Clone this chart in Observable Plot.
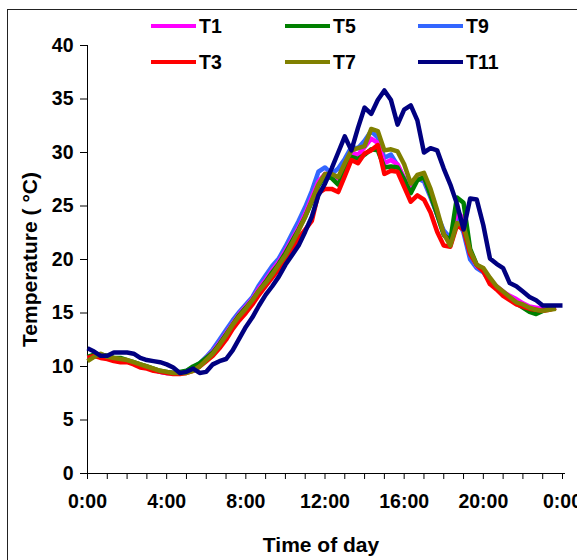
<!DOCTYPE html>
<html>
<head>
<meta charset="utf-8">
<script src="https://cdn.jsdelivr.net/npm/d3@7"></script>
<script src="https://cdn.jsdelivr.net/npm/@observablehq/plot@0.6"></script>
<style>
  html, body { margin: 0; padding: 0; background: #fff; overflow: hidden; }
  #wrap { position: relative; width: 577px; height: 560px; overflow: hidden; font-family: "Liberation Sans", Arial, sans-serif; }
  #border { position: absolute; left: 7px; top: 9px; width: 640px; height: 640px; border: 1.5px solid #222; box-sizing: border-box; }
  #legend { position: absolute; left: 0; top: 0; }
  .item { position: absolute; display: flex; align-items: center; font-weight: bold; font-size: 19.5px; color: #000; }
  .swatch { width: 45px; height: 4.5px; margin-right: 3px; }
</style>
</head>
<body>
<div id="wrap"><div id="border"></div><div id="chart"></div><div id="legend"></div></div>
<script>
// Readings every 20 minutes starting at 0:00
const stepHours = 1 / 3;
const T1 = [10.8, 11.0, 10.9, 10.8, 10.7, 10.6, 10.5, 10.3, 10.1,
  9.9, 9.7, 9.5, 9.4, 9.4, 9.4, 9.5, 9.8, 10.2,
  10.8, 11.4, 12.2, 13.1, 14.0, 14.9, 15.6, 16.3, 17.3,
  18.1, 19.0, 19.8, 20.8, 21.9, 23.0, 24.3, 25.8, 27.3,
  28.0, 27.7, 27.6, 28.8, 30.0, 29.8, 30.5, 31.3, 30.9,
  29.0, 29.3, 28.9, 27.6, 26.6, 27.5, 27.6, 26.0, 24.2,
  22.4, 21.6, 24.5, 23.8, 20.7, 19.4, 19.0, 18.1, 17.5,
  17.0, 16.6, 16.3, 15.9, 15.6, 15.5, 15.4, 15.4, 15.5];
const T3 = [10.8, 11.0, 10.8, 10.7, 10.5, 10.4, 10.4, 10.2, 9.9,
  9.8, 9.6, 9.5, 9.4, 9.3, 9.3, 9.4, 9.6, 10.0,
  10.5, 11.0, 11.7, 12.5, 13.5, 14.3, 15.0, 15.8, 16.7,
  17.5, 18.3, 19.1, 20.0, 21.0, 22.0, 22.8, 23.6, 26.2,
  26.6, 26.6, 26.3, 27.8, 29.3, 29.0, 29.9, 30.2, 30.7,
  28.0, 28.3, 28.2, 26.8, 25.4, 26.0, 25.6, 24.4, 22.6,
  21.3, 21.2, 23.2, 22.8, 20.5, 19.5, 18.9, 17.7, 17.2,
  16.6, 16.2, 15.8, 15.6, 15.4, 15.3, 15.2, 15.3, 15.5];
const T5 = [10.9, 11.1, 11.1, 11.0, 10.8, 10.8, 10.6, 10.4, 10.2,
  10.0, 9.8, 9.6, 9.5, 9.4, 9.5, 9.6, 10.0, 10.3,
  10.8, 11.3, 12.1, 13.0, 13.9, 14.8, 15.5, 16.2, 17.1,
  17.9, 18.8, 19.6, 20.6, 21.7, 22.8, 24.0, 25.4, 26.9,
  27.8, 27.6, 27.0, 28.3, 29.6, 29.4, 29.8, 30.3, 30.2,
  28.6, 28.7, 28.6, 27.5, 26.2, 27.4, 27.7, 26.0, 24.2,
  22.3, 21.8, 25.8, 25.3, 21.0, 19.5, 19.0, 18.0, 17.4,
  16.9, 16.4, 15.9, 15.5, 15.1, 14.9, 15.2, 15.4, 15.5];
const T7 = [10.5, 10.9, 11.2, 10.9, 10.8, 10.7, 10.6, 10.4, 10.2,
  10.0, 9.8, 9.6, 9.5, 9.4, 9.4, 9.4, 9.6, 10.0,
  10.6, 11.2, 12.0, 12.9, 13.9, 14.7, 15.4, 16.2, 17.1,
  17.8, 18.6, 19.5, 20.4, 21.5, 22.7, 24.0, 25.5, 27.0,
  28.0, 28.0, 27.7, 29.0, 30.2, 30.4, 30.6, 32.2, 32.0,
  30.2, 30.3, 30.1, 28.9, 27.1, 27.9, 28.1, 26.6, 24.6,
  22.4, 21.3, 23.4, 23.2, 20.8, 19.5, 19.2, 18.3, 17.5,
  17.0, 16.5, 16.0, 15.8, 15.5, 15.3, 15.2, 15.3, 15.4];
const T9 = [10.8, 11.0, 11.0, 10.9, 10.7, 10.6, 10.5, 10.3, 10.1,
  9.9, 9.7, 9.5, 9.4, 9.4, 9.4, 9.6, 9.9, 10.3,
  10.9, 11.6, 12.5, 13.4, 14.3, 15.1, 15.8, 16.5, 17.6,
  18.5, 19.4, 20.1, 21.2, 22.4, 23.6, 24.9, 26.4, 28.2,
  28.6, 28.0, 28.5, 29.4, 30.5, 30.4, 31.1, 32.0, 31.4,
  29.5, 29.8, 28.8, 27.6, 27.0, 27.6, 27.3, 25.8, 24.2,
  22.7, 22.0, 24.0, 22.5, 20.0, 19.2, 18.8, 17.9, 17.3,
  16.8, 16.4, 15.9, 15.6, 15.2, 15.0, 15.3, 15.4, 15.5];
const T11 = [11.7, 11.4, 11.0, 11.0, 11.3, 11.3, 11.3, 11.2, 10.8,
  10.6, 10.5, 10.4, 10.2, 9.9, 9.4, 9.5, 9.8, 9.4,
  9.5, 10.2, 10.5, 10.7, 11.5, 12.6, 13.7, 14.6, 15.7,
  16.7, 17.5, 18.4, 19.5, 20.4, 21.3, 22.6, 24.0, 26.0,
  27.1, 28.5, 30.0, 31.5, 30.2, 32.3, 34.2, 33.6, 34.9,
  35.8, 34.9, 32.6, 34.0, 34.4, 33.0, 30.0, 30.4, 30.2,
  28.5, 27.0, 25.2, 22.8, 25.7, 25.6, 23.2, 20.1, 19.6,
  19.2, 17.8, 17.5, 17.0, 16.5, 16.2, 15.7, 15.7, 15.7,
  15.7];

const seriesNames = ["T1", "T3", "T5", "T7", "T9", "T11"];
const seriesColors = ["#FF00FF", "#FF0000", "#008000", "#808000", "#3366FF", "#000080"];
const seriesValues = [T1, T3, T5, T7, T9, T11];
const drawOrder = ["T9", "T1", "T5", "T3", "T7", "T11"];
const legendOrder = ["T1", "T5", "T9", "T3", "T7", "T11"];

const yTicks = [0, 5, 10, 15, 20, 25, 30, 35, 40];
const xMinorTicks = d3.range(0, 25, 1);
const xLabelTicks = [0, 4, 8, 12, 16, 20, 24];
const xTickLabels = ["0:00", "4:00", "8:00", "12:00", "16:00", "20:00", "0:00"];
const yTitle = "Temperature (\u00A0\u00B0C)";
const xTitle = "Time of day";

const rows = (name) => {
  const vals = seriesValues[seriesNames.indexOf(name)];
  return vals.map((v, i) => ({hour: i * stepHours, temp: v}));
};
const colorOf = (name) => seriesColors[seriesNames.indexOf(name)];

const chart = Plot.plot({
  width: 577,
  height: 560,
  marginLeft: 87,
  marginRight: 15,
  marginTop: 45,
  marginBottom: 87,
  x: {domain: [0, 24]},
  y: {domain: [0, 40]},
  style: {fontFamily: "'Liberation Sans', Arial, sans-serif", fontWeight: "bold", fontSize: "19px", color: "#000", background: "transparent", overflow: "visible"},
  marks: [
    Plot.ruleX([0], {y1: 0, y2: 40, stroke: "#000", strokeWidth: 1}),
    Plot.ruleY([0], {x1: 0, x2: 24.15, stroke: "#000", strokeWidth: 1}),
    Plot.axisY({ticks: yTicks, tickSize: 7, tickPadding: 7, label: null, fontSize: 19.5, stroke: "#000"}),
    Plot.axisX({ticks: xMinorTicks, tickSize: 6, tickFormat: () => "", label: null, stroke: "#000"}),
    Plot.axisX({ticks: xLabelTicks, tickSize: 0, tickPadding: 21, label: null, fontSize: 19.5,
      tickFormat: (d) => xTickLabels[xLabelTicks.indexOf(d)]}),
    ...drawOrder.map(name => Plot.line(rows(name), {x: "hour", y: "temp", stroke: colorOf(name), strokeWidth: 4.5, strokeLinejoin: "round", strokeLinecap: "butt"})),
    Plot.text([yTitle], {frameAnchor: "left", dx: -57, rotate: -90, textAnchor: "middle", lineAnchor: "middle", fontSize: 21, fontWeight: "bold", fill: "#000"}),
    Plot.text([xTitle], {frameAnchor: "bottom", dx: -4, dy: 72, textAnchor: "middle", lineAnchor: "middle", fontSize: 21, fontWeight: "bold", fill: "#000"})
  ]
});
document.getElementById("chart").appendChild(chart);

// Legend overlay (2 rows x 3 columns)
const legendCols = [151, 285, 418];
const legendRows = [26, 62];
const legend = d3.select("#legend");
legendOrder.forEach((name, i) => {
  const col = i % 3, row = Math.floor(i / 3);
  const item = legend.append("div").attr("class", "item")
    .style("left", legendCols[col] + "px")
    .style("top", (legendRows[row] - 11) + "px")
    .style("height", "22px");
  item.append("div").attr("class", "swatch").style("background", colorOf(name));
  item.append("span").text(name);
});
</script>
</body>
</html>
